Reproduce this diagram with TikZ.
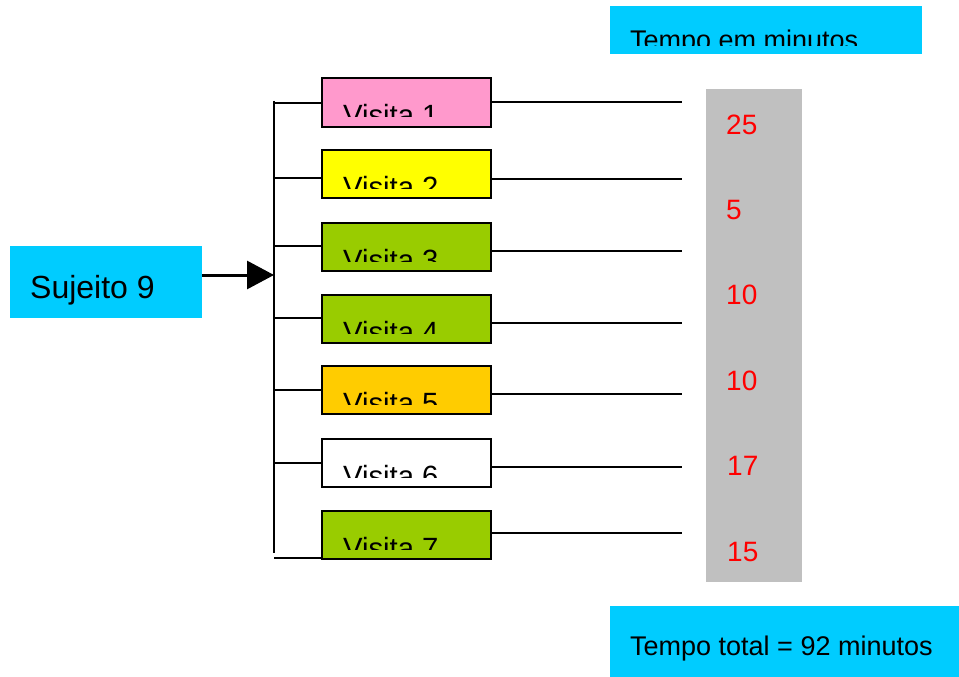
\documentclass[tikz,border=0pt]{standalone}
\usepackage{fontspec}
\setmainfont{Liberation Sans}
\usetikzlibrary{arrows.meta, calc}

\definecolor{skyblue}{RGB}{0,204,255}
\definecolor{rosa}{RGB}{255,153,204}
\definecolor{amarelo}{RGB}{255,255,0}
\definecolor{verde}{RGB}{153,204,0}
\definecolor{laranja}{RGB}{255,204,0}
\definecolor{cinza}{RGB}{192,192,192}

\begin{document}
\begin{tikzpicture}[x=1pt, y=-1pt]
		\tikzset{
			>=Stealth,
			line/.style={line width=2pt},
			% text set low in the box and cut off above the bottom edge
			cut label/.style n args={4}{path picture={
				\clip ([yshift=#3]path picture bounding box.south west) rectangle (path picture bounding box.north east);
				\node[anchor=base west, inner sep=0pt, draw=none, fill=none, minimum width=0pt, minimum height=0pt, font=#4]
					at ([shift={(20pt,#2)}]path picture bounding box.south west) {#1};}},
			visita/.style 2 args={draw, line width=2pt, fill=#1, minimum width=169pt, minimum height=48pt, inner sep=0pt,
				cut label={#2}{1pt}{10pt}{\fontsize{29.3}{34}\selectfont}},
			cyanbox/.style={fill=skyblue, inner sep=0pt},
			minutos/.style={anchor=base west, inner sep=0pt, text=red, font=\fontsize{28}{32}\selectfont}
		}
		\useasboundingbox (0,0) rectangle (959,677);

		% Title boxes
		\node[cyanbox, minimum width=312pt, minimum height=48pt,
			cut label={Tempo em minutos}{5pt}{9pt}{\fontsize{27}{31}\selectfont}] (titulo) at (766,30.5) {};
		\node[cyanbox, minimum width=349pt, minimum height=71pt,
			cut label={Tempo total = 92 minutos}{22pt}{0pt}{\fontsize{27}{31}\selectfont}] (total) at (784.5,641.5) {};

		% Subject
		\node[cyanbox, minimum width=192pt, minimum height=72pt,
			cut label={Sujeito 9}{20pt}{0pt}{\fontsize{32}{36}\selectfont}] (sujeito) at (106,282) {};

		% Visits
		\node[visita={rosa}{Visita 1}] (v1) at (406.5,102.5) {};
		\node[visita={amarelo}{Visita 2}] (v2) at (406.5,174) {};
		\node[visita={verde}{Visita 3}] (v3) at (406.5,247) {};
		\node[visita={verde}{Visita 4}] (v4) at (406.5,319) {};
		\node[visita={laranja}{Visita 5}] (v5) at (406.5,390) {};
		\node[visita={white}{Visita 6}] (v6) at (406.5,463) {};
		\node[visita={verde}{Visita 7}] (v7) at (406.5,535) {};

		% Bus and taps
		\coordinate (topo) at (274,101);
		\coordinate (base) at (274,553);
		\coordinate (b1) at (274,102.5);
		\coordinate (b2) at (274,178);
		\coordinate (b3) at (274,246);
		\coordinate (b4) at (274,318);
		\coordinate (b5) at (274,390);
		\coordinate (b6) at (274,463);
		\coordinate (b7) at (274,558);
		\coordinate (entrada) at (274,275);

		% Line ends next to the times
		\coordinate (t1) at (682,102);
		\coordinate (t2) at (682,179);
		\coordinate (t3) at (682,251);
		\coordinate (t4) at (682,323);
		\coordinate (t5) at (682,394);
		\coordinate (t6) at (682,467);
		\coordinate (t7) at (682,533);

		% Times column
		\node[fill=cinza, minimum width=96pt, minimum height=493pt, inner sep=0pt] (tempos) at (754,335.5) {};
		\node[minutos] (m1) at (726,134) {25};
		\node[minutos] (m2) at (726,219) {5};
		\node[minutos] (m3) at (726,304) {10};
		\node[minutos] (m4) at (726,390) {10};
		\node[minutos] (m5) at (727,475) {17};
		\node[minutos] (m6) at (727,561) {15};

		% Connectors
		\draw[line width=3pt, -{Triangle[length=27pt, width=28pt]}] (sujeito.east |- entrada) -- (entrada);
		\draw[line width=2.5pt] (topo) -- (base);
		\draw[line] (b1) -- (v1.west |- b1);
		\draw[line] (b2) -- (v2.west |- b2);
		\draw[line] (b3) -- (v3.west |- b3);
		\draw[line] (b4) -- (v4.west |- b4);
		\draw[line] (b5) -- (v5.west |- b5);
		\draw[line] (b6) -- (v6.west |- b6);
		\draw[line] (b7) -- (v7.west |- b7);

		\draw[line] (v1.east |- t1) -- (t1);
		\draw[line] (v2.east |- t2) -- (t2);
		\draw[line] (v3.east |- t3) -- (t3);
		\draw[line] (v4.east |- t4) -- (t4);
		\draw[line] (v5.east |- t5) -- (t5);
		\draw[line] (v6.east |- t6) -- (t6);
		\draw[line] (v7.east |- t7) -- (t7);

	\end{tikzpicture}
\end{document}
